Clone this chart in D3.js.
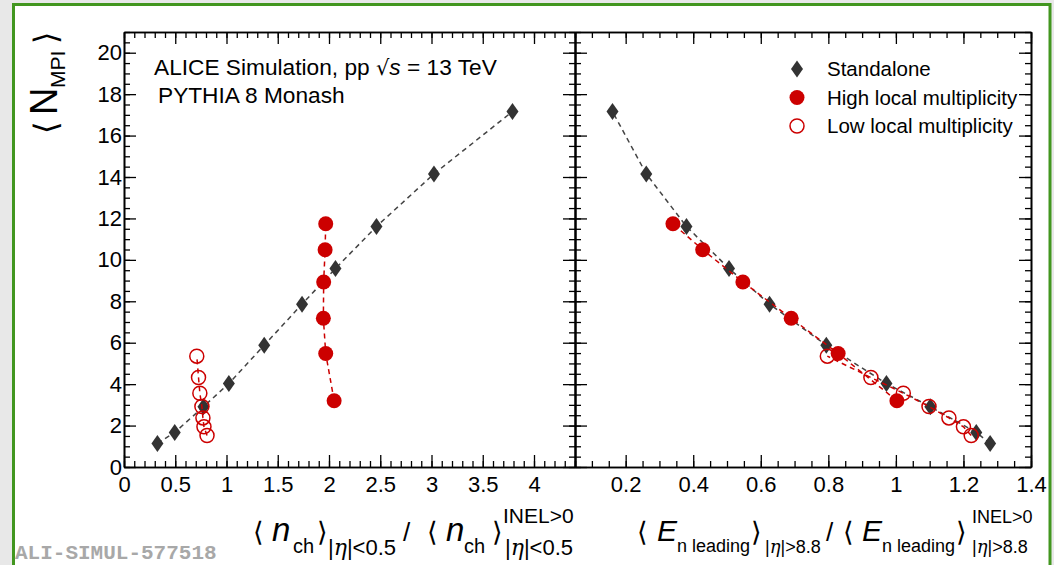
<!DOCTYPE html>
<html>
<head>
<meta charset="utf-8">
<script src="https://cdn.jsdelivr.net/npm/d3@7"></script>
<style>
body { margin: 0; background: #e8e8e8; }
svg { font-family: "Liberation Sans", Arial, sans-serif; }
</style>
</head>
<body>
<div id="chart"></div>
<script>
// N_MPI values (shared by both panels)
var standY = [1.14, 1.67, 2.91, 4.03, 5.88, 7.86, 9.58, 11.61, 14.15, 17.16]
var highY = [3.20, 5.48, 7.18, 8.93, 10.49, 11.74]
var lowY = [1.52, 1.94, 2.37, 2.92, 3.56, 4.32, 5.35]

// left panel: nch / <nch>
var standXL = [0.326, 0.495, 0.775, 1.023, 1.368, 1.737, 2.063, 2.463, 3.024, 3.79]
var highXL = [2.05, 1.968, 1.945, 1.948, 1.962, 1.968]
var lowXL = [0.81, 0.78, 0.77, 0.76, 0.74, 0.727, 0.71]

// right panel: E leading / <E leading>
var standXR = [1.279, 1.238, 1.102, 0.972, 0.794, 0.626, 0.506, 0.380, 0.261, 0.161]
var highXR = [1.003, 0.829, 0.690, 0.547, 0.428, 0.340]
var lowXR = [1.223, 1.2, 1.157, 1.098, 1.022, 0.926, 0.797]

var ticksXL = [0, 0.5, 1, 1.5, 2, 2.5, 3, 3.5, 4]
var ticksXR = [0.2, 0.4, 0.6, 0.8, 1, 1.2, 1.4]
var ticksY = [0, 2, 4, 6, 8, 10, 12, 14, 16, 18, 20]

var legendNames = ['Standalone', 'High local multiplicity', 'Low local multiplicity']

var red = '#cc0000', dark = '#333333'

var svg = d3.select('#chart').append('svg').attr('width', 1054).attr('height', 565)

svg.append('rect')
    .attr('x', 13.5).attr('y', 4.5).attr('width', 1036.5).attr('height', 620)
    .attr('fill', '#fff').attr('stroke', '#42961f').attr('stroke-width', 3)

var yScale = d3.scaleLinear().domain([0, 21]).range([467, 32])
var xL = d3.scaleLinear().domain([0, 4.4]).range([124, 575])
var xR = d3.scaleLinear().domain([0.05, 1.4]).range([575, 1031])

function drawFrame(x, majorX, minorX, yLabels) {
    var x0 = x.range()[0], x1 = x.range()[1]
    var g = svg.append('g').attr('class', 'frame')
    var minorY = d3.range(0, 21.01, 0.5)
    // bottom
    g.append('g').attr('transform', 'translate(0,467)')
        .call(d3.axisBottom(x).tickValues(minorX).tickSize(-6).tickSizeOuter(0).tickFormat(''))
    g.append('g').attr('transform', 'translate(0,467)')
        .call(d3.axisBottom(x).tickValues(majorX).tickSize(-12).tickSizeOuter(0).tickPadding(9)
            .tickFormat(d3.format('~g')))
    // top
    g.append('g').attr('transform', 'translate(0,32)')
        .call(d3.axisTop(x).tickValues(minorX).tickSize(-6).tickSizeOuter(0).tickFormat(''))
    g.append('g').attr('transform', 'translate(0,32)')
        .call(d3.axisTop(x).tickValues(majorX).tickSize(-12).tickSizeOuter(0).tickFormat(''))
    // left
    g.append('g').attr('transform', `translate(${x0},0)`)
        .call(d3.axisLeft(yScale).tickValues(minorY).tickSize(-6).tickSizeOuter(0).tickFormat(''))
    g.append('g').attr('transform', `translate(${x0},0)`)
        .call(d3.axisLeft(yScale).tickValues(ticksY).tickSize(-12).tickSizeOuter(0).tickPadding(2)
            .tickFormat(yLabels ? d3.format('~g') : ''))
    // right
    g.append('g').attr('transform', `translate(${x1},0)`)
        .call(d3.axisRight(yScale).tickValues(minorY).tickSize(-6).tickSizeOuter(0).tickFormat(''))
    g.append('g').attr('transform', `translate(${x1},0)`)
        .call(d3.axisRight(yScale).tickValues(ticksY).tickSize(-12).tickSizeOuter(0).tickFormat(''))
    g.selectAll('.domain').attr('stroke', '#000').attr('stroke-width', 1.6)
    g.selectAll('.tick line').attr('stroke', '#000').attr('stroke-width', 1.3)
    g.selectAll('.tick text').attr('font-size', 22).attr('fill', '#000')
        .style('font-family', '"Liberation Sans", Arial, sans-serif')
}

drawFrame(xL, ticksXL, d3.range(0, 4.41, 0.1), true)
drawFrame(xR, ticksXR, d3.range(0.05, 1.401, 0.05), false)

var diamond = 'M0,-8.5L6,0L0,8.5L-6,0Z'

function drawSeries(x, xs, ys, kind) {
    var pts = xs.map((v, i) => [x(v), yScale(ys[i])])
    var col = kind == 'stand' ? '#444' : red
    svg.append('path')
        .attr('d', d3.line()(pts))
        .attr('fill', 'none')
        .attr('stroke', col)
        .attr('stroke-width', 1.5)
        .attr('stroke-dasharray', '5,4')
    var g = svg.append('g')
    if (kind == 'stand') {
        g.selectAll('path').data(pts).join('path')
            .attr('d', diamond)
            .attr('transform', d => `translate(${d[0]},${d[1]})`)
            .attr('fill', dark)
    } else if (kind == 'high') {
        g.selectAll('circle').data(pts).join('circle')
            .attr('cx', d => d[0]).attr('cy', d => d[1]).attr('r', 7.5)
            .attr('fill', red)
    } else {
        g.selectAll('circle').data(pts).join('circle')
            .attr('cx', d => d[0]).attr('cy', d => d[1]).attr('r', 7)
            .attr('fill', 'none').attr('stroke', red).attr('stroke-width', 1.5)
    }
}

drawSeries(xL, standXL, standY, 'stand')
drawSeries(xL, highXL, highY, 'high')
drawSeries(xL, lowXL, lowY, 'low')
drawSeries(xR, standXR, standY, 'stand')
drawSeries(xR, highXR, highY, 'high')
drawSeries(xR, lowXR, lowY, 'low')

// legend
var leg = svg.append('g')
legendNames.forEach(function (name, i) {
    var cy = 69 + i * 28.5
    var m = leg.append('g').attr('transform', `translate(797,${cy})`)
    if (i == 0) m.append('path').attr('d', diamond).attr('fill', dark)
    else if (i == 1) m.append('circle').attr('r', 7.5).attr('fill', red)
    else m.append('circle').attr('r', 7).attr('fill', 'none').attr('stroke', red).attr('stroke-width', 1.5)
    leg.append('text').attr('x', 827).attr('y', cy + 7).attr('font-size', 20.5).text(name)
})

// header text
var t1 = svg.append('text').attr('x', 154).attr('y', 75).attr('font-size', 22.7)
t1.append('tspan').text('ALICE Simulation, pp ')
t1.append('tspan').text('√').style('font-family', '"DejaVu Sans"').attr('font-size', 21)
t1.append('tspan').text('s').attr('font-style', 'italic')
t1.append('tspan').text(' = 13 TeV')
svg.append('text').attr('x', 158).attr('y', 103).attr('font-size', 22.7).text('PYTHIA 8 Monash')

// rich label: each piece starts at p.at if given, else right after the previous piece
function richText(g, y, pieces) {
    var cx = 0
    pieces.forEach(function (p) {
        if (p.at != null) cx = p.at
        var t = g.append('text')
            .attr('x', cx).attr('y', y + (p.dy || 0))
            .attr('font-size', p.fs)
            .text(p.t)
        if (p.it) t.attr('font-style', 'italic')
        if (p.font) t.style('font-family', p.font)
        cx += t.node().getComputedTextLength()
    })
}

var ang = '"DejaVu Sans", sans-serif'
var greek = '"DejaVu Serif", serif'
function eta(at, rest, fs, dy) {
    return [
        {t: '|', fs: fs, dy: dy, at: at},
        {t: 'η', fs: fs, dy: dy, it: true, font: greek},
        {t: '|' + rest, fs: fs, dy: dy}
    ]
}

// x title, left panel
richText(svg, 541, [
    {t: '⟨', fs: 27, font: ang, at: 253},
    {t: 'n', fs: 33, it: true, at: 272},
    {t: 'ch', fs: 20, dy: 12, at: 293},
    {t: '⟩', fs: 27, font: ang, at: 317}
].concat(eta(328, '<0.5', 22, 14)).concat([
    {t: '/', fs: 26, at: 403},
    {t: '⟨', fs: 27, font: ang, at: 427},
    {t: 'n', fs: 33, it: true, at: 446},
    {t: 'ch', fs: 20, dy: 12, at: 464},
    {t: '⟩', fs: 27, font: ang, at: 492},
    {t: 'INEL>0', fs: 21, dy: -18, at: 503}
]).concat(eta(505, '<0.5', 22, 14)))

// x title, right panel
richText(svg, 541, [
    {t: '⟨', fs: 27, font: ang, at: 637},
    {t: 'E', fs: 30, it: true, at: 657},
    {t: 'n leading', fs: 18, dy: 11, at: 677},
    {t: '⟩', fs: 27, font: ang, at: 751}
].concat(eta(765, '>8.8', 18, 12)).concat([
    {t: '/', fs: 26, at: 826},
    {t: '⟨', fs: 27, font: ang, at: 843},
    {t: 'E', fs: 30, it: true, at: 862},
    {t: 'n leading', fs: 18, dy: 11, at: 882},
    {t: '⟩', fs: 27, font: ang, at: 956},
    {t: 'INEL>0', fs: 18, dy: -18, at: 972}
]).concat(eta(972, '>8.8', 18, 12)))

// y title, rotated
var yt = svg.append('g').attr('transform', 'translate(57,134) rotate(-90)')
richText(yt, 0, [
    {t: '⟨', fs: 32, font: ang, at: 0},
    {t: 'N', fs: 38, at: 19},
    {t: 'MPI', fs: 21, dy: 8, at: 46},
    {t: '⟩', fs: 32, font: ang, at: 90}
])

svg.append('text')
    .attr('x', 15).attr('y', 559)
    .style('font-family', '"Liberation Mono", "DejaVu Sans Mono", monospace')
    .attr('font-weight', 'bold').attr('font-size', 21)
    .attr('fill', '#a8a8a8')
    .text('ALI-SIMUL-577518')
</script>
</body>
</html>
